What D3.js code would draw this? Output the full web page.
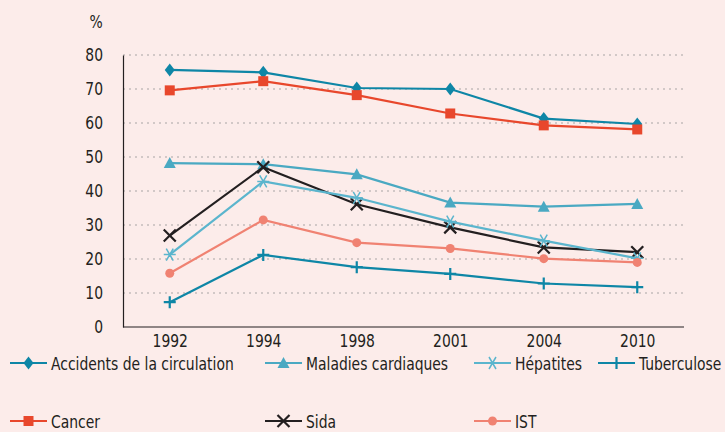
<!DOCTYPE html>
<html>
<head>
<meta charset="utf-8">
<script src="https://cdn.jsdelivr.net/npm/d3@7"></script>
<style>
  body { margin: 0; background: #fcecea; }
  svg { display: block; }
  text { font-family: "DejaVu Sans Condensed", "DejaVu Sans", sans-serif; fill: #231f20; }
</style>
</head>
<body>
<svg id="chart" width="725" height="432"></svg>
<script>
const years = ["1992", "1994", "1998", "2001", "2004", "2010"];
const yTicks = [0, 10, 20, 30, 40, 50, 60, 70, 80];

const accidents = [75.6, 74.9, 70.3, 70.0, 61.3, 59.7];
const cancer = [69.6, 72.3, 68.2, 62.8, 59.3, 58.1];
const maladies = [48.2, 47.9, 44.9, 36.6, 35.4, 36.2];
const hepatites = [21.3, 42.8, 38.0, 31.0, 25.4, 20.2];
const sida = [26.9, 47.0, 36.1, 29.3, 23.4, 22.0];
const ist = [15.8, 31.5, 24.8, 23.1, 20.1, 19.0];
const tuberculose = [7.3, 21.2, 17.6, 15.6, 12.8, 11.7];

const series = [
  { name: "Accidents de la circulation", values: accidents, color: "#0e86a6", marker: "diamond" },
  { name: "Cancer", values: cancer, color: "#e8472c", marker: "square" },
  { name: "Maladies cardiaques", values: maladies, color: "#4aa9c2", marker: "triangle" },
  { name: "Sida", values: sida, color: "#231f20", marker: "x" },
  { name: "Hépatites", values: hepatites, color: "#5bb5cd", marker: "star" },
  { name: "IST", values: ist, color: "#f08272", marker: "circle" },
  { name: "Tuberculose", values: tuberculose, color: "#0e86a6", marker: "plus" }
];

const svg = d3.select("#chart");
const margin = { left: 123, right: 41, top: 55, bottom: 105 };
const width = 725, height = 432;
const fs = "18px";
const sx = 0.86; // squeeze text horizontally, the original font is condensed

const x = d3.scalePoint().domain(years).range([margin.left, width - margin.right]).padding(0.5);
const y = d3.scaleLinear().domain([0, 80]).range([height - margin.bottom, margin.top]);

// gridlines
svg.append("g").selectAll("line")
  .data(yTicks.filter(d => d > 0))
  .enter().append("line")
  .attr("x1", margin.left).attr("x2", width - margin.right)
  .attr("y1", d => y(d)).attr("y2", d => y(d))
  .attr("stroke", "#a7a3a3").attr("stroke-width", 1.2)
  .attr("stroke-dasharray", "2,4");

// axes
const yAxis = svg.append("g")
  .attr("transform", `translate(${margin.left},0)`)
  .call(d3.axisLeft(y).tickValues(yTicks).tickSize(0).tickPadding(20));
yAxis.select(".domain").attr("stroke", "#231f20").attr("stroke-width", 1.2);
yAxis.selectAll("text").style("font-size", fs).attr("fill", "#231f20")
  .attr("x", -20 / sx).attr("transform", `scale(${sx},1)`);

const xAxis = svg.append("g")
  .attr("transform", `translate(0,${y(0)})`)
  .call(d3.axisBottom(x).tickSize(0).tickPadding(7));
xAxis.select(".domain").attr("stroke", "#231f20").attr("stroke-width", 1.2)
  .attr("d", `M${margin.left},0H${width - margin.right}`);
xAxis.selectAll("text").style("font-size", fs).attr("fill", "#231f20")
  .attr("transform", `scale(${sx},1)`);

svg.append("text").attr("transform", `translate(96,28) scale(${sx},1)`)
  .attr("text-anchor", "middle").style("font-size", fs).text("%");

function drawMarker(g, type, color) {
  if (type === "diamond") {
    g.append("path").attr("d", "M0,-6.5L5,0L0,6.5L-5,0Z").attr("fill", color);
  } else if (type === "square") {
    g.append("rect").attr("x", -5).attr("y", -5).attr("width", 10).attr("height", 10).attr("fill", color);
  } else if (type === "triangle") {
    g.append("path").attr("d", "M0,-6L6,5L-6,5Z").attr("fill", color);
  } else if (type === "circle") {
    g.append("circle").attr("r", 4.5).attr("fill", color);
  } else if (type === "x") {
    g.append("path").attr("d", "M-6,-6L6,6M-6,6L6,-6").attr("stroke", color).attr("stroke-width", 2.2);
  } else if (type === "plus") {
    g.append("path").attr("d", "M-6,0H6M0,-6V6").attr("stroke", color).attr("stroke-width", 2.2);
  } else if (type === "star") {
    g.append("path").attr("d", "M-6,0H6M-3.5,-6L3.5,6M-3.5,6L3.5,-6").attr("stroke", color).attr("stroke-width", 1.5);
  }
}

const line = d3.line().x((d, i) => x(years[i])).y(d => y(d));

series.forEach(s => {
  svg.append("path").datum(s.values)
    .attr("d", line)
    .attr("fill", "none")
    .attr("stroke", s.color)
    .attr("stroke-width", 2.2);
  s.values.forEach((v, i) => {
    const g = svg.append("g").attr("transform", `translate(${x(years[i])},${y(v)})`);
    drawMarker(g, s.marker, s.color);
  });
});

// legend
const legendItems = [
  { s: series[0], lx: 10, ly: 363 },
  { s: series[2], lx: 265, ly: 363 },
  { s: series[4], lx: 474, ly: 363 },
  { s: series[6], lx: 598, ly: 363 },
  { s: series[1], lx: 10, ly: 421 },
  { s: series[3], lx: 265, ly: 421 },
  { s: series[5], lx: 474, ly: 421 }
];
legendItems.forEach(it => {
  const g = svg.append("g").attr("transform", `translate(${it.lx},${it.ly})`);
  g.append("line").attr("x1", 0).attr("x2", 37).attr("y1", 0).attr("y2", 0)
    .attr("stroke", it.s.color).attr("stroke-width", 2.2);
  const m = g.append("g").attr("transform", "translate(18.5,0)");
  drawMarker(m, it.s.marker, it.s.color);
  g.append("text").attr("transform", `translate(41,7) scale(${sx},1)`)
    .style("font-size", fs).text(it.s.name);
});
</script>
</body>
</html>
